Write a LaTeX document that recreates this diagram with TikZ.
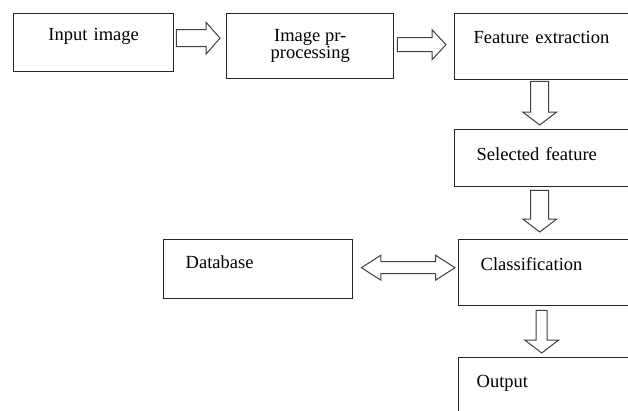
\documentclass[tikz,border=0pt]{standalone}
\usepackage{fontspec}
\setmainfont{Liberation Serif}
\usetikzlibrary{calc,positioning}

% hollow block arrow: from, to, shaft half width, head half width, head length
\newcommand{\blockarrow}[5]{%
  \coordinate (ba) at (#1);
  \coordinate (bb) at (#2);
  \coordinate (bh) at ($(bb)!#5!(ba)$);
  \draw[block arrow] ($(ba)!#3!90:(bb)$) -- ($(bh)!#3!90:(bb)$) -- ($(bh)!#4!90:(bb)$) -- (bb)
    -- ($(bh)!#4!-90:(bb)$) -- ($(bh)!#3!-90:(bb)$) -- ($(ba)!#3!-90:(bb)$) -- cycle;
}
% same with a head at both ends
\newcommand{\dblockarrow}[5]{%
  \coordinate (ba) at (#1);
  \coordinate (bb) at (#2);
  \coordinate (ha) at ($(ba)!#5!(bb)$);
  \coordinate (hb) at ($(bb)!#5!(ba)$);
  \draw[block arrow] (ba) -- ($(ha)!#4!90:(bb)$) -- ($(ha)!#3!90:(bb)$) -- ($(hb)!#3!90:(bb)$)
    -- ($(hb)!#4!90:(bb)$) -- (bb) -- ($(hb)!#4!-90:(bb)$) -- ($(hb)!#3!-90:(bb)$)
    -- ($(ha)!#3!-90:(bb)$) -- ($(ha)!#4!-90:(bb)$) -- cycle;
}
\newcommand{\boxfont}{\fontsize{18.5bp}{21bp}\selectfont}

\begin{document}
\begin{tikzpicture}[x=1bp,y=1bp,
                    box/.style={draw=black!85,line width=1.4bp,anchor=north west,align=left,
                                font=\boxfont,inner ysep=0pt},
                    block arrow/.style={draw=black!75,line width=1bp,line join=miter,fill=white}]

  \useasboundingbox (0,0) rectangle (628,-410);
  \clip (0,0) rectangle (628,-410);

  \node[box,align=center,inner xsep=0pt,text width=160bp,text height=27bp,text depth=31bp]
    (input) at (13,-13) {Input image};
  \node[box,align=center,inner sep=0pt,minimum width=167bp,minimum height=65bp,
        font={\fontsize{18.5bp}{15bp}\selectfont}]
    (prep) at (226,-13) {Image pr-\\processing};
  \node[box,inner xsep=19bp,text width=148bp,text height=30bp,text depth=36bp]
    (feat) at (454,-13) {Feature extraction};
  \node[box,inner xsep=22bp,text width=142bp,text height=31bp,text depth=26bp]
    (sel) at (454,-129) {Selected feature};
  \node[box,inner xsep=22bp,text width=138bp,text height=31bp,text depth=35bp]
    (class) at (458,-239) {Classification};
  \node[box,inner xsep=22bp,text width=145bp,text height=29bp,text depth=30bp]
    (db) at (163,-239) {Database};
  \node[box,inner xsep=18bp,text width=146bp,text height=30bp,text depth=40bp]
    (out) at (458,-357) {Output};

  % arrows between the boxes
  \blockarrow{$(input.east)+(2,4.5)$}{$(prep.west)+(-6,8)$}{8.5bp}{16bp}{14bp}
  \blockarrow{$(prep.east)+(3,1.5)$}{$(feat.west)+(-8,2)$}{7bp}{15bp}{14bp}
  \blockarrow{$(feat.south)+(-8,-1)$}{$(sel.north)+(-8,4)$}{9bp}{17bp}{13bp}
  \blockarrow{$(sel.south)+(-8,-3)$}{$(class.north)+(-10,7)$}{9bp}{17bp}{13bp}
  \blockarrow{$(class.south)+(-8,-4)$}{$(out.north)+(-8,4)$}{5.5bp}{17bp}{13bp}
  \dblockarrow{$(db.east)+(8,1.5)$}{$(class.west)+(-3,5)$}{6bp}{12.5bp}{19.5bp}
\end{tikzpicture}
\end{document}
